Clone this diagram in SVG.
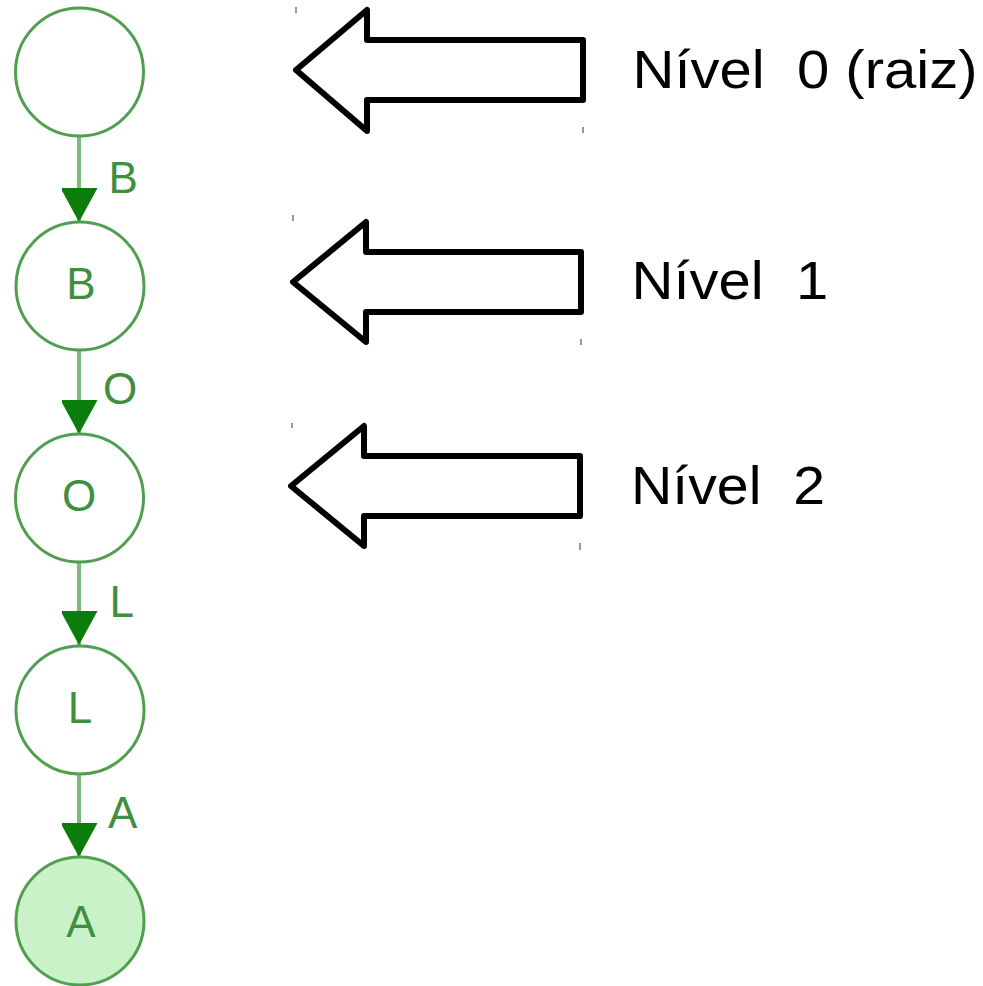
<svg xmlns="http://www.w3.org/2000/svg" width="983" height="986" viewBox="0 0 983 986">
  <style>
    .node circle { fill: #ffffff; stroke: #4f9f4f; stroke-width: 3; }
    .node.final circle { fill: #c9f2c9; }
    .node text, .edge-label { font-family: "Liberation Sans", Arial, sans-serif; font-size: 44px; fill: #3f8f3f; }
    .node text { text-anchor: middle; }
    .edge { stroke: #7dbb7d; stroke-width: 4; fill: none; }
    .block { fill: #ffffff; stroke: #000000; stroke-width: 6; stroke-linejoin: round; }
    .tick { stroke: #555555; stroke-width: 1.2; }
    .level { font-family: "Liberation Sans", Arial, sans-serif; font-size: 54px; fill: #000000; }
  </style>
  <defs>
    <marker id="head" markerUnits="userSpaceOnUse" markerWidth="38" markerHeight="36" refX="34" refY="18.5" orient="auto">
      <path d="M0,0 L34,18.5 L0,37 Z" fill="#0b7d0b"/>
    </marker>
  </defs>

  <rect width="983" height="986" fill="#ffffff"/>

  <!-- trie connectors -->
  <g id="edges">
    <path class="edge" d="M79,137 V222" marker-end="url(#head)"/>
    <text class="edge-label" x="108.5" y="193">B</text>
    <path class="edge" d="M79,350 V434" marker-end="url(#head)"/>
    <text class="edge-label" x="103" y="404">O</text>
    <path class="edge" d="M79,562 V645" marker-end="url(#head)"/>
    <text class="edge-label" x="109.5" y="617">L</text>
    <path class="edge" d="M79,774 V857" marker-end="url(#head)"/>
    <text class="edge-label" x="108" y="828">A</text>
  </g>

  <!-- trie nodes -->
  <g id="node-root" class="node">
    <circle cx="79.5" cy="72" r="64"/>
  </g>
  <g id="node-b" class="node">
    <circle cx="80" cy="286" r="64"/>
    <text x="81" y="299">B</text>
  </g>
  <g id="node-o" class="node">
    <circle cx="79.5" cy="498" r="64"/>
    <text x="79" y="511">O</text>
  </g>
  <g id="node-l" class="node">
    <circle cx="80" cy="710" r="64"/>
    <text x="80" y="723">L</text>
  </g>
  <g id="node-a" class="node final">
    <circle cx="80" cy="921" r="64"/>
    <text x="81" y="937">A</text>
  </g>

  <!-- level pointers (labels widened horizontally) -->
  <g id="level-0">
    <polygon class="block" points="296,70 367,10 367,40 583,40 583,100 367,100 367,131"/>
    <line class="tick" x1="296" y1="7" x2="296" y2="13"/>
    <line class="tick" x1="583" y1="127" x2="583" y2="133"/>
    <text class="level" transform="translate(632.5,88) scale(1.075,1)" xml:space="preserve">Nível  0 (raiz)</text>
  </g>
  <g id="level-1">
    <polygon class="block" points="293,282 366,222 366,252 581,252 581,312 366,312 366,342"/>
    <line class="tick" x1="293" y1="215" x2="293" y2="221"/>
    <line class="tick" x1="581" y1="339" x2="581" y2="345"/>
    <text class="level" transform="translate(631.5,299) scale(1.075,1)" xml:space="preserve">Nível  1</text>
  </g>
  <g id="level-2">
    <polygon class="block" points="291,486 364,426 364,456 580,456 580,516 364,516 364,546"/>
    <line class="tick" x1="292" y1="423" x2="292" y2="428"/>
    <line class="tick" x1="580" y1="543" x2="580" y2="550"/>
    <text class="level" transform="translate(631,504) scale(1.06,1)" xml:space="preserve">Nível  2</text>
  </g>
</svg>
